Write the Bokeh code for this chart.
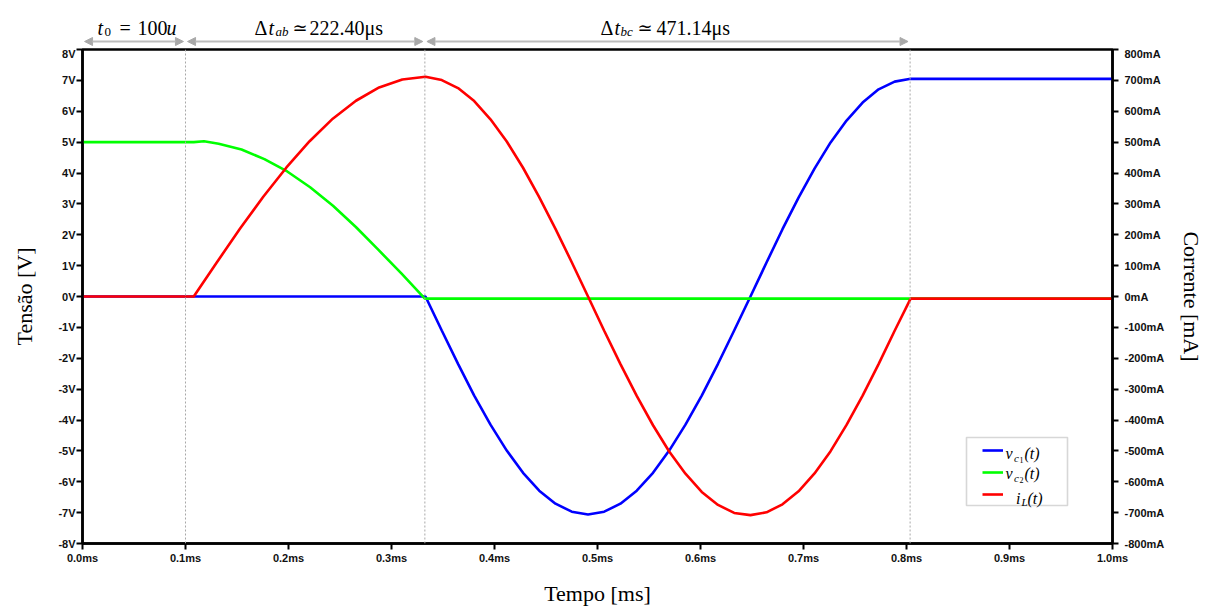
from bokeh.plotting import figure
from bokeh.models import (Range1d, LinearAxis, FixedTicker, Span, Arrow, NormalHead,
                          Label, BoxAnnotation, Legend, LegendItem)
from bokeh.layouts import column
from bokeh.embed import file_html
from bokeh.resources import INLINE

# ---------------- data ----------------
t_vc1 = [0.0, 0.333, 0.3488, 0.3646, 0.3803, 0.3961, 0.4119, 0.4277, 0.4434, 0.4592,
         0.475, 0.4908, 0.5065, 0.5223, 0.5381, 0.5539, 0.5696, 0.5854, 0.6012, 0.617,
         0.6327, 0.6485, 0.6641, 0.6796, 0.6952, 0.7107, 0.7263, 0.7418, 0.7574,
         0.7729, 0.7885, 0.804, 1.0]
v_c1 = [0.0, 0.0, -1.10, -2.18, -3.21, -4.15, -4.99, -5.71, -6.29, -6.71,
        -6.97, -7.06, -6.97, -6.71, -6.29, -5.71, -4.99, -4.15, -3.21, -2.18,
        -1.10, 0.0, 1.10, 2.18, 3.20, 4.14, 4.99, 5.70, 6.28,
        6.71, 6.96, 7.05, 7.05]

t_vc2 = [0.0, 0.108, 0.118, 0.1322, 0.1544, 0.1766, 0.1988, 0.221, 0.2432, 0.2654,
         0.2876, 0.3098, 0.3324, 1.0]
v_c2 = [5.0, 5.0, 5.03, 4.95, 4.76, 4.45, 4.05, 3.54, 2.94, 2.25,
        1.50, 0.74, -0.07, -0.07]

t_il = [0.0, 0.108, 0.1305, 0.153, 0.1755, 0.198, 0.2205, 0.243, 0.2655, 0.288,
        0.3105, 0.333, 0.3488, 0.3646, 0.3803, 0.3961, 0.4119, 0.4277, 0.4434, 0.4592,
        0.475, 0.4908, 0.5065, 0.5223, 0.5381, 0.5539, 0.5696, 0.5854, 0.6012, 0.617,
        0.6327, 0.6485, 0.6641, 0.6796, 0.6952, 0.7107, 0.7263, 0.7418, 0.7574,
        0.7729, 0.7885, 0.804, 1.0]
i_l = [0, 0, 111, 220, 323, 418, 503, 576, 634, 677,
       703, 712, 701, 675, 633, 574, 502, 417, 322, 219,
       111, 0, -111, -219, -322, -417, -502, -574, -633, -675,
       -701, -708, -699, -673, -631, -573, -501, -416, -321,
       -219, -111, -7, -7]

t_marks = [0.0, 0.1, 0.3324, 0.8035]

x_ticks = [0.0, 0.1, 0.2, 0.3, 0.4, 0.5, 0.6, 0.7, 0.8, 0.9, 1.0]
x_tick_labels = ["0.0ms", "0.1ms", "0.2ms", "0.3ms", "0.4ms", "0.5ms", "0.6ms",
                 "0.7ms", "0.8ms", "0.9ms", "1.0ms"]
v_ticks = [-8, -7, -6, -5, -4, -3, -2, -1, 0, 1, 2, 3, 4, 5, 6, 7, 8]
v_tick_labels = ["-8V", "-7V", "-6V", "-5V", "-4V", "-3V", "-2V", "-1V", "0V",
                 "1V", "2V", "3V", "4V", "5V", "6V", "7V", "8V"]
ma_ticks = [-800, -700, -600, -500, -400, -300, -200, -100, 0,
            100, 200, 300, 400, 500, 600, 700, 800]
ma_tick_labels = ["-800mA", "-700mA", "-600mA", "-500mA", "-400mA", "-300mA", "-200mA",
                  "-100mA", "0mA", "100mA", "200mA", "300mA", "400mA", "500mA",
                  "600mA", "700mA", "800mA"]

# ---------------- geometry ----------------
W = 1208
TOP_H = 47
MAIN_H = 608 - TOP_H
FL, FW = 82, 1030          # frame left / width in page px
FT, FB = 49, 543           # frame top / bottom in page px


def fx(px):
    return (px - FL) / FW


def fy(py):
    return 8 - (py - FT) * 16.0 / (FB - FT)


SERIF = "Liberation Serif"
TICKFONT = "Liberation Sans"

# ---------------- main figure ----------------
p = figure(width=W, height=MAIN_H, x_range=Range1d(0, 1), y_range=Range1d(-8, 8),
           output_backend="svg", toolbar_location=None,
           min_border_left=FL, min_border_right=W - FL - FW,
           min_border_top=2, min_border_bottom=MAIN_H - 2 - (FB - FT))
p.extra_y_ranges = {"mA": Range1d(-800, 800)}
p.xgrid.visible = False
p.ygrid.visible = False
p.outline_line_color = "black"
p.outline_line_width = 2.5
p.background_fill_color = "white"
p.border_fill_color = "white"

right_axis = LinearAxis(y_range_name="mA")
p.add_layout(right_axis, "right")

p.xaxis.ticker = FixedTicker(ticks=x_ticks)
p.xaxis.major_label_overrides = dict(zip(x_ticks, x_tick_labels))
p.yaxis[0].ticker = FixedTicker(ticks=v_ticks)
p.yaxis[0].major_label_overrides = dict(zip(v_ticks, v_tick_labels))
right_axis.ticker = FixedTicker(ticks=ma_ticks)
right_axis.major_label_overrides = dict(zip(ma_ticks, ma_tick_labels))

for ax in [p.xaxis[0], p.yaxis[0], right_axis]:
    ax.axis_line_width = 2.5
    ax.axis_line_color = "black"
    ax.major_tick_line_width = 2
    ax.major_tick_line_color = "black"
    ax.major_tick_out = 6
    ax.major_tick_in = 0
    ax.minor_tick_out = 0
    ax.minor_tick_in = 0
    ax.major_label_text_font = TICKFONT
    ax.major_label_text_font_style = "bold"
    ax.major_label_text_font_size = "11px"
    ax.major_label_text_color = "#111111"
    ax.axis_label_text_font = SERIF
    ax.axis_label_text_font_style = "normal"
    ax.axis_label_text_color = "black"

p.xaxis[0].axis_label = "Tempo [ms]"
p.xaxis[0].axis_label_text_font_size = "22px"
p.xaxis[0].major_label_standoff = 2
p.xaxis[0].axis_label_standoff = 14

p.yaxis[0].axis_label = "Tensão [V]"
p.yaxis[0].axis_label_text_font_size = "22px"
p.yaxis[0].major_label_standoff = 1
p.yaxis[0].axis_label_standoff = 18

right_axis.axis_label = "Corrente [mA]"
right_axis.axis_label_text_font_size = "22px"
right_axis.major_label_standoff = 6
right_axis.axis_label_standoff = 12

# dashed markers
for tm in t_marks[1:]:
    p.add_layout(Span(location=tm, dimension="height", line_color="#a8a8a8",
                      line_width=1, line_dash="2 2"))

r_vc1 = p.line(t_vc1, v_c1, line_color="#0000ff", line_width=2.6)
r_vc2 = p.line(t_vc2, v_c2, line_color="#00ff00", line_width=2.6)
r_il = p.line(t_il, i_l, line_color="#ff0000", line_width=2.6, y_range_name="mA")

# legend frame + legend
p.add_layout(BoxAnnotation(left=fx(966), right=fx(1067), top=fy(437), bottom=fy(505),
                           fill_alpha=0, line_color="#7a7a7a", line_width=1.6))
legend = Legend(items=[LegendItem(label=" ", renderers=[r_vc1]),
                       LegendItem(label=" ", renderers=[r_vc2]),
                       LegendItem(label=" ", renderers=[r_il])],
                location=(982 - FL, FB - 504), margin=0, padding=0,
                glyph_width=21, glyph_height=20, label_height=20, spacing=2,
                label_width=10, label_standoff=2,
                border_line_alpha=0, background_fill_alpha=0)
p.add_layout(legend)


def piece(fig, px, py, txt, size, italic=False, font=SERIF, color="black"):
    fig.add_layout(Label(x=fx(px), y=(fy(py) if fig is p else py), text=txt,
                         text_font=font, text_font_size=f"{size}px",
                         text_font_style="italic" if italic else "normal",
                         text_color=color, text_align="left",
                         text_baseline="alphabetic"))


# legend labels (math-like)
piece(p, 1005, 453, "v", 16, True)
piece(p, 1013.5, 457, "c", 11, True)
piece(p, 1019, 459.5, "1", 8)
piece(p, 1024, 453, "(t)", 16, True)
piece(p, 1005, 473, "v", 16, True)
piece(p, 1013.5, 477, "c", 11, True)
piece(p, 1019, 479.5, "2", 8)
piece(p, 1024, 473, "(t)", 16, True)
piece(p, 1015.5, 498, "i", 16, True)
piece(p, 1021, 501, "L", 11, True)
piece(p, 1027, 498, "(t)", 16, True)

# ---------------- top annotation strip ----------------
top = figure(width=W, height=TOP_H,
             x_range=p.x_range, y_range=Range1d(TOP_H, 0),
             output_backend="svg", toolbar_location=None,
             x_axis_location=None, y_axis_location=None, min_border=0,
             min_border_left=FL, min_border_right=W - FL - FW)
top.xgrid.visible = False
top.ygrid.visible = False
top.outline_line_color = None
top.background_fill_color = "white"
top.border_fill_color = "white"

for a, b in zip(t_marks[:-1], t_marks[1:]):
    top.add_layout(Arrow(
        start=NormalHead(size=8, fill_color="#a9a9a9", line_color="#a9a9a9"),
        end=NormalHead(size=8, fill_color="#a9a9a9", line_color="#a9a9a9"),
        x_start=a + 0.002, y_start=41, x_end=b - 0.002, y_end=41,
        line_color="#bdbdbd", line_width=2))

# t0 = 100u
piece(top, 97, 27, "t", 20, True)
piece(top, 104, 31, "0", 13)
piece(top, 119, 27, "=", 20)
piece(top, 137, 27, "100", 20)
piece(top, 166, 27, "u", 20, True)
# Δt_ab ≃ 222.40μs
piece(top, 254, 27, "Δ", 20)
piece(top, 268, 27, "t", 20, True)
piece(top, 275, 31, "ab", 13, True)
piece(top, 292, 27, "≃", 18, font="DejaVu Serif")
piece(top, 309, 27, "222.40μs", 20)
# Δt_bc ≃ 471.14μs
piece(top, 600, 27, "Δ", 20)
piece(top, 614, 27, "t", 20, True)
piece(top, 620, 31, "bc", 13, True)
piece(top, 637, 27, "≃", 18, font="DejaVu Serif")
piece(top, 656, 27, "471.14μs", 20)

layout = column(top, p)
open("out.html", "w").write(file_html(layout, INLINE))
